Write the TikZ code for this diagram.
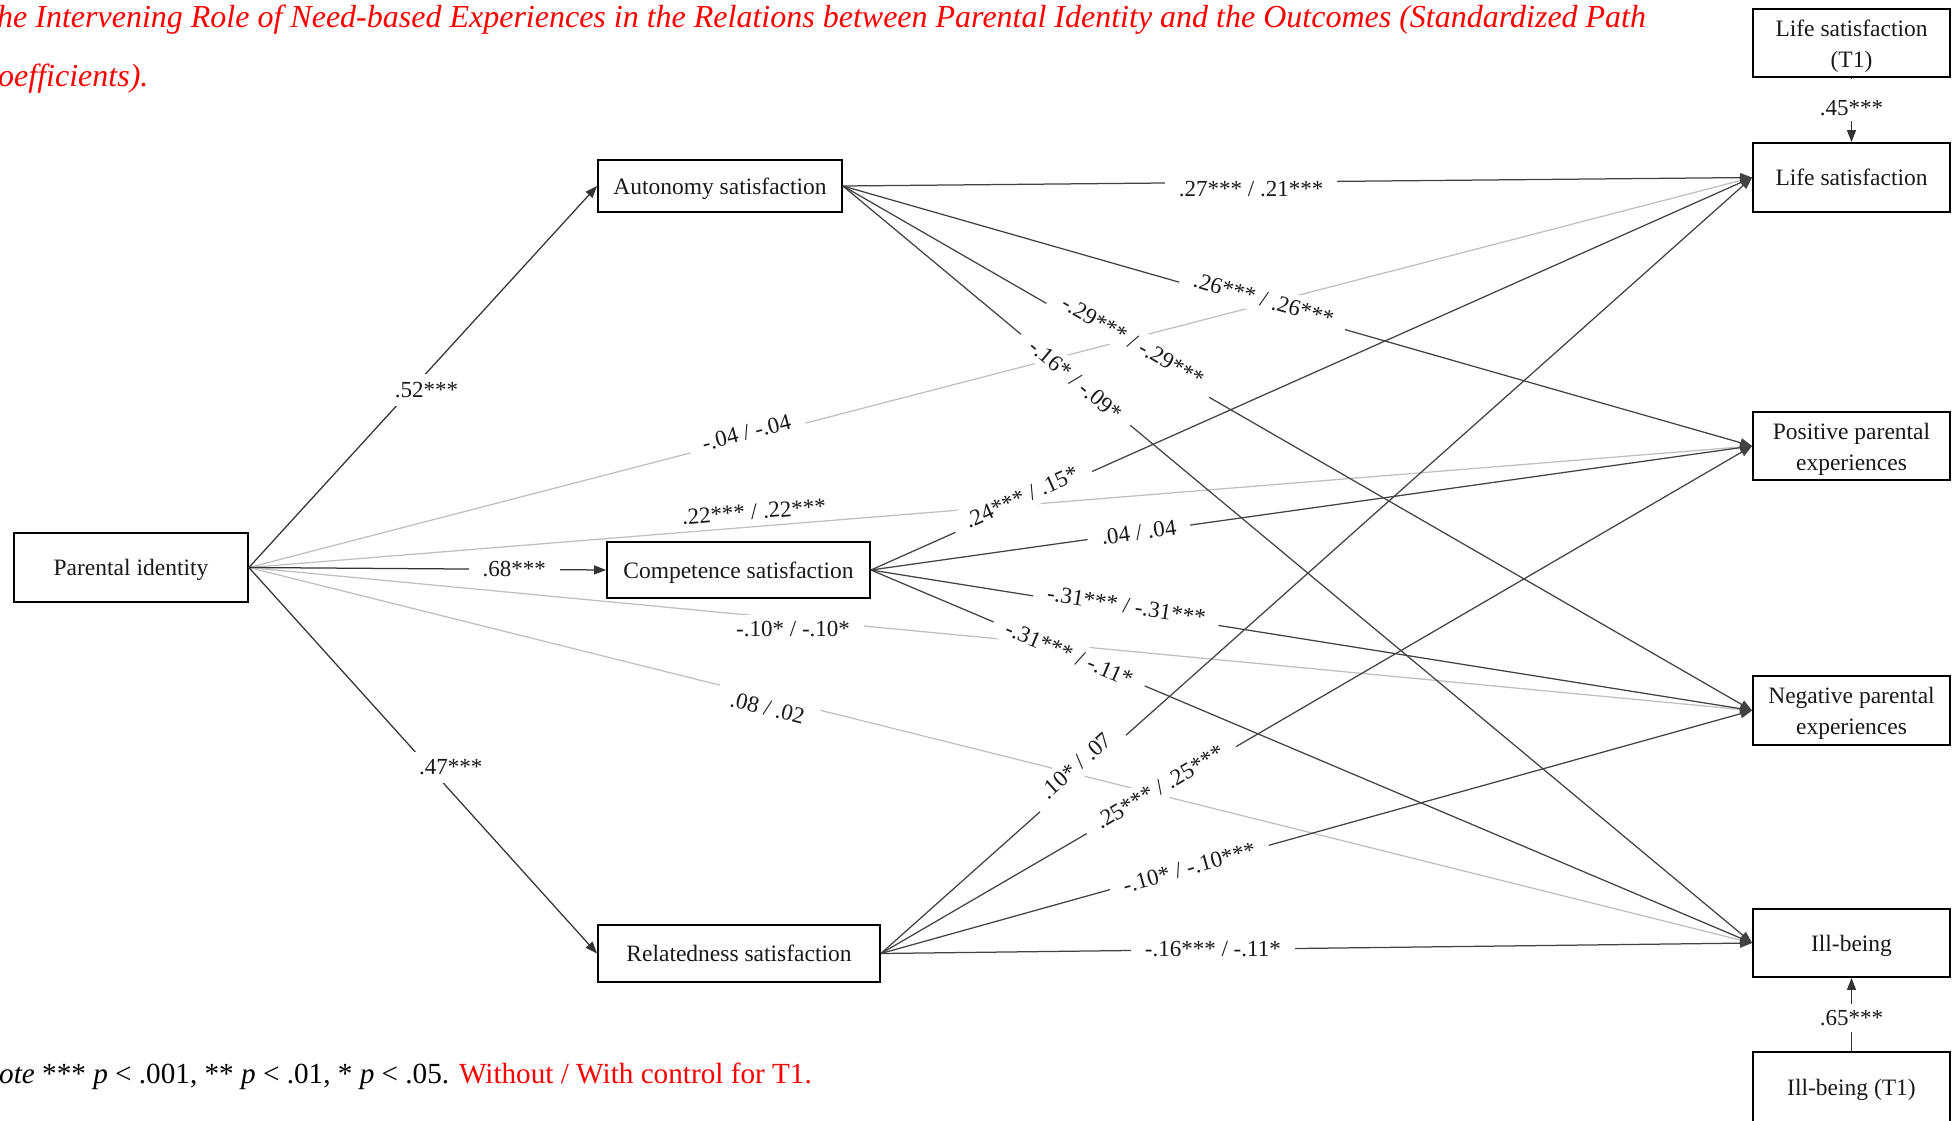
\documentclass[tikz,border=0pt]{standalone}
\usepackage{fontspec}
\setmainfont{Liberation Serif}
\usetikzlibrary{arrows.meta}
\newcommand\bxfont{\fontsize{23.5}{31}\selectfont}
\newcommand\lbfont{\fontsize{23}{28}\selectfont}
\newcommand\ttlfont{\fontsize{32}{36}\selectfont\itshape}
\newcommand\ntfont{\fontsize{29.2}{34}\selectfont}
\newcommand\topstrut{\rule{0pt}{22pt}}
\begin{document}
\begin{tikzpicture}[x=1pt,y=-1pt,
  box/.style={draw=black, line width=1.8pt, inner sep=0pt, align=center, font=\bxfont, text=black!90, minimum width=197pt, minimum height=68pt},
  onebox/.style={box, text height=21pt, text depth=5pt},
  conn/.style={line width=1.25pt, draw=black!74, -{Triangle[length=12pt,width=9pt]}},
  dark/.style={conn, draw=black!80},
  light/.style={conn, draw=black!25},
  lbl/.style={fill=white, inner xsep=14pt, inner ysep=6pt, font=\lbfont, text=black!90},
]
\useasboundingbox (0,0) rectangle (1957,1120);
\clip (0,0) rectangle (1957,1120);

% title and note
\node[anchor=base west, inner sep=0pt, font=\ttlfont, text=red] (title1) at (-3,27) {he Intervening Role of Need-based Experiences in the Relations between Parental Identity and the Outcomes (Standardized Path};
\node[anchor=base west, inner sep=0pt, font=\ttlfont, text=red] (title2) at (-2,86) {oefficients).};
\node[anchor=base west, inner sep=0pt, font=\ntfont, text=black] (note) at (-1,1083) {\textit{ote} *** \textit{p} < .001, ** \textit{p} < .01, * \textit{p} < .05. \textcolor{red}{Without / With control for T1.}};

% boxes
\node[onebox, minimum width=234pt, minimum height=69pt] (pi) at (131,567.5) {Parental identity};
\node[onebox, minimum width=244pt, minimum height=52pt] (aut) at (720,186) {Autonomy satisfaction};
\node[onebox, minimum width=263pt, minimum height=56pt] (com) at (738.5,570) {Competence satisfaction};
\node[onebox, minimum width=282pt, minimum height=57pt] (rel) at (739,953.5) {Relatedness satisfaction};
\node[box] (ls1) at (1851.5,43) {\topstrut Life satisfaction\\(T1)};
\node[onebox, minimum height=69pt] (ls) at (1851.5,177.5) {Life satisfaction};
\node[box] (pos) at (1851.5,446) {\topstrut Positive parental\\experiences};
\node[box, minimum height=69pt] (neg) at (1851.5,710.5) {\topstrut Negative parental\\experiences};
\node[onebox] (ill) at (1851.5,943) {Ill-being};
\node[onebox, minimum height=70pt] (ill1) at (1851.5,1087) {Ill-being (T1)};

% connectors
\foreach \t in {ls,pos,neg,ill} \draw[light] (pi.east) -- (\t.west);
\draw[dark] (pi.east) -- (aut.west);
\draw[dark] (pi.east) -- (com.west);
\draw[dark] (pi.east) -- (rel.west);
\foreach \s in {aut,com,rel} {\foreach \t in {ls,pos,neg,ill} {\draw[conn] (\s.east) -- (\t.west);}}
\draw[dark] (ls1.south) -- (ls.north);
\draw[dark] (ill1.north) -- (ill.south);

% labels
\path ([yshift=-17pt]pi.east) -- ([yshift=-17pt]aut.west) node[lbl, pos=0.51, inner ysep=8pt] {.52***};
\path (pi.east) -- (com.west) node[lbl, pos=0.743] {.68***};
\path ([yshift=24pt]pi.east) -- ([yshift=24pt]rel.west) node[lbl, pos=0.58, inner ysep=8pt] {.47***};
\path ([yshift=6pt]pi.east) -- ([yshift=6pt]ls.west) node[lbl, pos=0.331, sloped] {-.04 / -.04};
\path ([yshift=15pt]pi.east) -- ([yshift=15pt]pos.west) node[lbl, pos=0.336, sloped] {.22*** / .22***};
\path ([yshift=-10pt]pi.east) -- ([yshift=-10pt]neg.west) node[lbl, pos=0.362] {-.10* / -.10*};
\path ([yshift=-11pt]pi.east) -- ([yshift=-11pt]ill.west) node[lbl, pos=0.345, sloped] {.08 / .02};
\path ([yshift=-7pt]aut.east) -- ([yshift=-7pt]ls.west) node[lbl, pos=0.449] {.27*** / .21***};
\path ([yshift=7pt]aut.east) -- ([yshift=7pt]pos.west) node[lbl, pos=0.463, sloped] {.26*** / .26***};
\path ([yshift=12pt]aut.east) -- ([yshift=12pt]neg.west) node[lbl, pos=0.319, sloped] {-.29*** / -.29***};
\path (aut.east) -- (ill.west) node[lbl, pos=0.256, sloped] {-.16* / -.09*};
\path ([yshift=6pt]com.east) -- ([yshift=6pt]ls.west) node[lbl, pos=0.171, sloped] {.24*** / .15*};
\path (com.east) -- (pos.west) node[lbl, pos=0.304, sloped] {.04 / .04};
\path ([yshift=5pt]com.east) -- ([yshift=5pt]neg.west) node[lbl, pos=0.29, sloped] {-.31*** / -.31***};
\path (com.east) -- (ill.west) node[lbl, pos=0.225, sloped] {-.31*** / -.11*};
\path ([yshift=14pt]rel.east) -- ([yshift=14pt]ls.west) node[lbl, pos=0.224, sloped] {.10* / .07};
\path ([yshift=4pt]rel.east) -- ([yshift=4pt]pos.west) node[lbl, pos=0.32, sloped] {.25*** / .25***};
\path (rel.east) -- (neg.west) node[lbl, pos=0.354, sloped] {-.10* / -.10***};
\path (rel.east) -- (ill.west) node[lbl, pos=0.381] {-.16*** / -.11*};
\path (ls1.south) -- (ls.north) node[lbl, pos=0.59, anchor=base, text height=31.5pt, inner ysep=5pt, inner xsep=6pt] {.45***};
\path (ill1.north) -- (ill.south) node[lbl, pos=0.45, inner ysep=6pt, inner xsep=6pt] {.65***};
\end{tikzpicture}
\end{document}
